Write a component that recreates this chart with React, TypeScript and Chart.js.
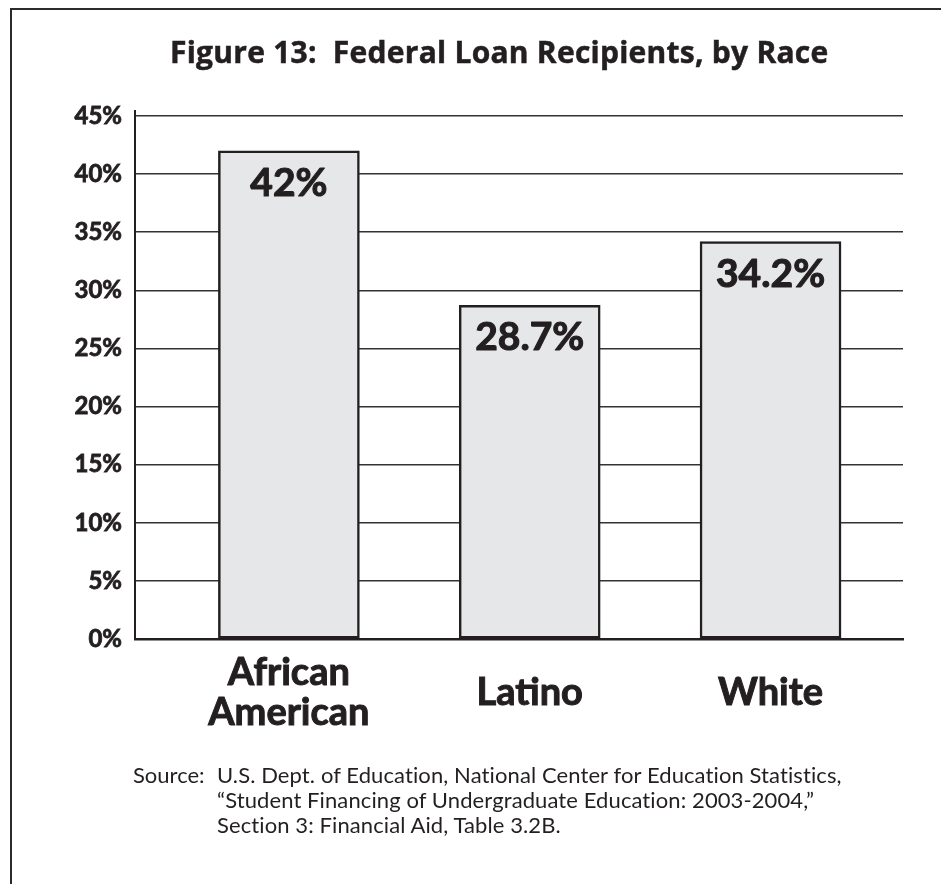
import React, { useEffect, useRef } from "react";
import { Chart, registerables } from "chart.js";

Chart.register(...registerables);

const categories: string[][] = [["African", "American"], ["Latino"], ["White"]];
const positions: number[] = [1, 2, 3];
const values: number[] = [42, 28.7, 34.2];
const valueLabels: string[] = ["42%", "28.7%", "34.2%"];
const yTicks: number[] = [0, 5, 10, 15, 20, 25, 30, 35, 40, 45];

const INK = "#231f20";

const barLabelPlugin = {
  id: "barLabels",
  afterDatasetsDraw(chart: any) {
    const ctx = chart.ctx;
    const meta = chart.getDatasetMeta(0);
    ctx.save();
    ctx.font = "bold 39px Lato";
    ctx.fillStyle = INK;
    ctx.strokeStyle = INK;
    ctx.lineWidth = 1.1;
    ctx.lineJoin = "round";
    ctx.textAlign = "center";
    ctx.textBaseline = "alphabetic";
    meta.data.forEach((bar: any, i: number) => {
      ctx.fillText(valueLabels[i], bar.x, bar.y + 45);
      ctx.strokeText(valueLabels[i], bar.x, bar.y + 45);
    });
    ctx.restore();
  },
  afterDraw(chart: any) {
    const ctx = chart.ctx;
    const y = chart.scales.y;
    const x = chart.chartArea.left;
    ctx.save();
    ctx.strokeStyle = INK;
    ctx.lineWidth = 2;
    ctx.beginPath();
    ctx.moveTo(x, y.getPixelForValue(45) - 6);
    ctx.lineTo(x, y.getPixelForValue(45));
    ctx.stroke();
    ctx.restore();
  },
};

export default function App() {
  const ref = useRef<HTMLCanvasElement | null>(null);
  useEffect(() => {
    if (!ref.current) return;
    const chart = new Chart(ref.current, {
      type: "bar",
      data: {
        datasets: [
          {
            data: positions.map((p, i) => ({ x: p, y: values[i] })),
            backgroundColor: "#e6e7e8",
            borderColor: INK,
            borderWidth: 2.5,
            borderSkipped: false,
            barThickness: 141,
          },
        ],
      },
      options: {
        responsive: false,
        animation: false,
        layout: { padding: { top: 116, left: 0, right: 38, bottom: 0 } },
        plugins: {
          legend: { display: false },
          tooltip: { enabled: false },
          title: { display: false },
        },
        scales: {
          x: {
            type: "linear",
            offset: false,
            min: 0.361,
            max: 3.55,
            afterBuildTicks: (s: any) => {
              s.ticks = positions.map((v) => ({ value: v }));
            },
            afterFit: (s: any) => {
              s.height = 245;
            },
            grid: { display: false, drawTicks: false, offset: false },
            border: { display: true, color: INK, width: 2.5 },
            ticks: {
              padding: 34,
              crossAlign: "center",
              color: INK,
              textStrokeColor: INK,
              textStrokeWidth: 1.0,
              font: { family: "Lato", weight: "bold", size: 38, lineHeight: 1.05 },
              callback: (v: any) => categories[positions.indexOf(Number(v))] ?? "",
            },
          },
          y: {
            min: 0,
            max: 45,
            afterBuildTicks: (s: any) => {
              s.ticks = yTicks.map((v) => ({ value: v }));
            },
            afterFit: (s: any) => {
              s.width = 135;
            },
            grid: { color: "#333", lineWidth: 1.5, drawTicks: false, tickLength: 0 },
            border: { display: true, color: INK, width: 2 },
            ticks: {
              padding: 13,
              color: INK,
              textStrokeColor: INK,
              textStrokeWidth: 0.8,
              font: { family: "Lato", weight: "bold", size: 24 },
              callback: (v: any) => `${v}%`,
            },
          },
        },
      },
      plugins: [barLabelPlugin],
    } as any);
    return () => chart.destroy();
  }, []);

  return (
    <div style={{ position: "relative", width: 941, height: 884, overflow: "hidden", background: "#fff" }}>
      <style>{"body{margin:0;overflow:hidden}"}</style>
      <canvas ref={ref} width={941} height={884} style={{ position: "absolute", left: 0, top: 0 }} />
      <div
        style={{
          position: "absolute",
          left: 10,
          top: 8,
          width: 1000,
          height: 1000,
          borderTop: "2.5px solid #2b2b2b",
          borderLeft: "2.5px solid #2b2b2b",
          pointerEvents: "none",
        }}
      />
      <div
        style={{
          position: "absolute",
          left: 170,
          top: 35,
          font: "bold 30px 'Open Sans'",
          lineHeight: "34px",
          letterSpacing: "0.25px",
          color: INK,
          whiteSpace: "pre",
          WebkitTextStroke: "0.5px " + INK,
        }}
      >
        {"Figure 13:  Federal Loan Recipients, by Race"}
      </div>
      <div
        style={{
          position: "absolute",
          left: 133,
          top: 762,
          font: "22px Lato",
          lineHeight: "25px",
          color: INK,
          whiteSpace: "pre",
        }}
      >
        {"Source:"}
      </div>
      <div
        style={{
          position: "absolute",
          left: 217,
          top: 762,
          font: "22px Lato",
          lineHeight: "25px",
          letterSpacing: "0.1px",
          color: INK,
          whiteSpace: "pre",
        }}
      >
        {"U.S. Dept. of Education, National Center for Education Statistics,\n\u201CStudent Financing of Undergraduate Education: 2003-2004,\u201D\nSection 3: Financial Aid, Table 3.2B."}
      </div>
    </div>
  );
}
